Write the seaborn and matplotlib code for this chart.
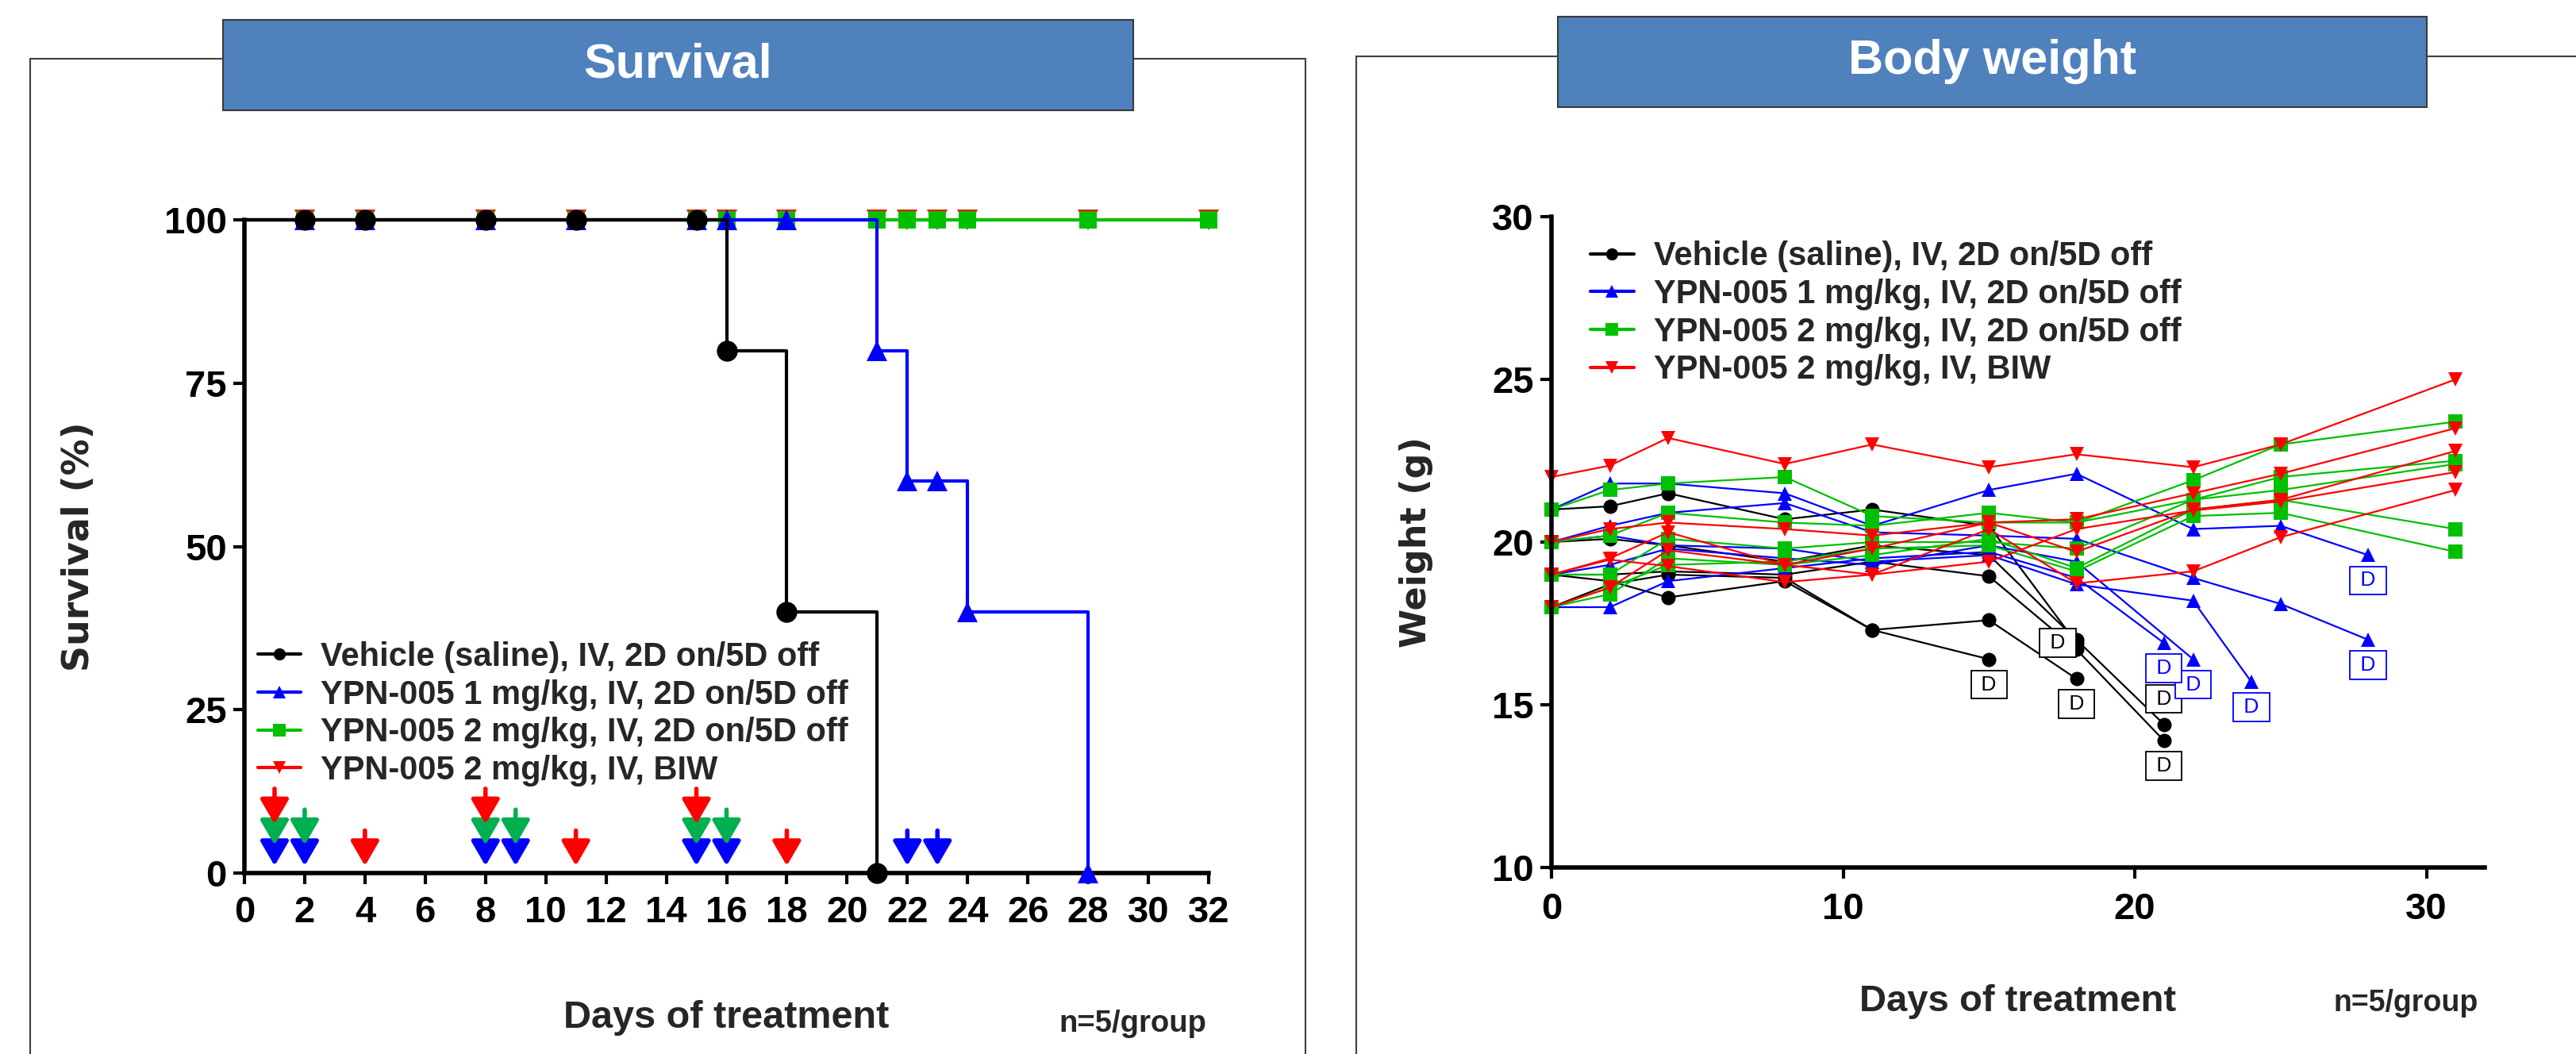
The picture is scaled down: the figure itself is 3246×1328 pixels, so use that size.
import numpy as np
import pandas as pd
import seaborn as sns
import matplotlib.pyplot as plt
from matplotlib.lines import Line2D
from matplotlib.patches import Rectangle

W, H = 3246, 1328

# Grupos
group_keys = ['veh', 'low', 'high', 'biw']
group_names = ['Vehicle (saline), IV, 2D on/5D off',
               'YPN-005 1 mg/kg, IV, 2D on/5D off',
               'YPN-005 2 mg/kg, IV, 2D on/5D off',
               'YPN-005 2 mg/kg, IV, BIW']
colors = {'veh': '#000000', 'low': '#0000FF', 'high': '#00C000', 'biw': '#FF0000'}
arrow_colors = {'low': '#0000FF', 'high': '#00B050', 'biw': '#FF0000'}
markers = {'veh': 'o', 'low': '^', 'high': 's', 'biw': 'v'}
surv_ms = {'veh': 19, 'low': 19, 'high': 16, 'biw': 19}

# Supervivencia (Kaplan-Meier)
surv_days_veh = [0, 2, 4, 8, 11, 15, 16, 18, 21]
surv_pct_veh = [100, 100, 100, 100, 100, 100, 80, 40, 0]
surv_days_low = [0, 2, 4, 8, 11, 15, 16, 18, 21, 22, 23, 24, 28]
surv_pct_low = [100, 100, 100, 100, 100, 100, 100, 100, 80, 60, 60, 40, 0]
surv_days_high = [0, 2, 4, 8, 11, 15, 16, 18, 21, 22, 23, 24, 28, 32]
surv_pct_high = [100, 100, 100, 100, 100, 100, 100, 100, 100, 100, 100, 100, 100, 100]
surv_days_biw = [0, 2, 4, 8, 11, 15, 16, 18, 21, 22, 23, 24, 28, 32]
surv_pct_biw = [100, 100, 100, 100, 100, 100, 100, 100, 100, 100, 100, 100, 100, 100]

# Dias de dosis (flechas)
dose_low = [1, 2, 8, 9, 15, 16, 22, 23]
dose_high = [1, 2, 8, 9, 15, 16]
dose_biw = [1, 4, 8, 11, 15, 18]

surv_xticks = [0, 2, 4, 6, 8, 10, 12, 14, 16, 18, 20, 22, 24, 26, 28, 30, 32]
surv_yticks = [0, 25, 50, 75, 100]

# Peso corporal (una fila por raton, nan despues de la muerte)
nan = np.nan
bw_days_veh = [0, 2, 4, 8, 11, 15, 18, 21]
bw_veh = [
    [19.0, 18.8, 18.3, 18.8, 17.3, 16.4, nan, nan],
    [18.0, 18.7, 19.0, 18.9, 17.3, 17.6, 15.8, nan],
    [21.0, 21.1, 21.5, 20.7, 21.0, 20.5, 16.9, nan],
    [20.0, 20.1, 19.9, 19.4, 19.9, 19.6, 17.0, 14.4],
    [19.0, 19.0, 19.1, 19.0, 19.4, 18.95, 16.7, 13.9],
]
bw_days_low = [0, 2, 4, 8, 11, 15, 18, 21, 22, 24, 25, 28]
bw_low = [
    [21.0, 21.8, 21.8, 21.5, 20.5, 21.6, 22.1, nan, 20.4, nan, 20.5, 19.6],
    [20.0, 20.5, 20.9, 21.2, 20.3, 20.2, 20.1, nan, 18.9, nan, 18.1, 17.0],
    [20.0, 20.2, 19.9, 19.8, 19.4, 19.6, 18.7, nan, 18.2, 15.7, nan, nan],
    [19.0, 19.3, 19.8, 19.5, 19.3, 19.9, 19.4, nan, 16.4, nan, nan, nan],
    [18.0, 18.0, 18.8, 19.2, 19.5, 19.7, 18.9, 16.9, nan, nan, nan, nan],
]
bw_days_high = [0, 2, 4, 8, 11, 15, 18, 22, 25, 31]
bw_high = [
    [21.0, 21.6, 21.8, 22.0, 20.8, 20.6, 20.6, 21.9, 23.0, 23.7],
    [20.0, 20.2, 20.9, 20.6, 20.5, 20.9, 20.6, 21.3, 22.0, 22.5],
    [19.0, 19.0, 20.1, 19.8, 20.0, 20.0, 19.8, 21.3, 21.6, 22.4],
    [18.0, 18.4, 19.5, 19.3, 19.6, 20.1, 19.2, 21.0, 21.3, 20.4],
    [18.0, 18.6, 19.3, 19.4, 19.8, 19.9, 19.1, 20.8, 20.9, 19.7],
]
bw_days_biw = [0, 2, 4, 8, 11, 15, 18, 22, 25, 31]
bw_biw = [
    [22.0, 22.35, 23.2, 22.4, 23.0, 22.3, 22.7, 22.3, 23.0, 25.0],
    [20.0, 20.4, 20.6, 20.4, 20.2, 20.6, 20.7, 21.5, 22.1, 23.5],
    [19.0, 19.5, 20.3, 19.3, 19.8, 20.6, 19.7, 21.0, 21.3, 22.8],
    [18.0, 18.6, 19.75, 19.3, 19.0, 19.4, 20.4, 20.97, 21.25, 22.15],
    [19.0, 19.46, 19.26, 18.77, 19.0, 20.4, 18.73, 19.1, 20.15, 21.6],
]
bw_xticks = [0, 10, 20, 30]
bw_yticks = [10, 15, 20, 25, 30]

# Estilo
sns.set_theme(style='ticks')
plt.rcParams['font.family'] = ['Liberation Sans', 'DejaVu Sans']
plt.rcParams['font.weight'] = 'bold'
plt.rcParams['axes.labelweight'] = 'bold'

fig = plt.figure(figsize=(W / 100, H / 100), dpi=100)


def fx(px):
    return px / W


def fy(py):
    return 1 - py / H


# Marcos y cabeceras
fig.add_artist(Rectangle((fx(38), fy(1340)), (1645 - 38) / W, (1340 - 74) / H,
                         transform=fig.transFigure, fill=False, ec='#404040', lw=1.5))
fig.add_artist(Rectangle((fx(1709), fy(1340)), (3300 - 1709) / W, (1340 - 71) / H,
                         transform=fig.transFigure, fill=False, ec='#404040', lw=1.5))
for (x0, y0, x1, y1), title in [((281, 25, 1428, 139), 'Survival'),
                                ((1963, 21, 3058, 135), 'Body weight')]:
    fig.add_artist(Rectangle((fx(x0), fy(y1)), (x1 - x0) / W, (y1 - y0) / H,
                             transform=fig.transFigure, fc='#4F81BD', ec='#3A3A3A', lw=1.5))
    fig.text(fx((x0 + x1) / 2), fy((y0 + y1) / 2), title, color='white', fontsize=44,
             ha='center', va='center')

# -------------------------------
# Supervivencia
ax1 = fig.add_axes([fx(308), fy(1100), (1523 - 308) / W, (1100 - 277) / H])
surv = {'veh': (surv_days_veh, surv_pct_veh), 'low': (surv_days_low, surv_pct_low),
        'high': (surv_days_high, surv_pct_high), 'biw': (surv_days_biw, surv_pct_biw)}
for z, key in enumerate(['biw', 'high', 'low', 'veh']):
    d, p = surv[key]
    sns.lineplot(x=d, y=p, ax=ax1, color=colors[key], drawstyle='steps-post', lw=3,
                 marker=markers[key], markersize=surv_ms[key], markeredgewidth=0,
                 markevery=list(range(1, len(d))), clip_on=False, estimator=None,
                 sort=False, zorder=3 + z)

dose_sets = [('low', dose_low), ('high', dose_high), ('biw', dose_biw)]
for i, (key, days) in enumerate(dose_sets):
    for d in days:
        level = sum(d in dd for _, dd in dose_sets[:i])
        tip = 1.1 + 3.2 * level
        ax1.annotate('', xy=(d, tip), xytext=(d, tip + 5.4),
                     arrowprops=dict(arrowstyle='-|>,head_width=0.55,head_length=0.95',
                                     color=arrow_colors[key], lw=4, mutation_scale=20,
                                     shrinkA=0, shrinkB=0), zorder=10 + i)

ax1.set_xlim(0, 32)
ax1.set_ylim(0, 100)
ax1.set_xticks(surv_xticks)
ax1.set_yticks(surv_yticks)
ax1.set_ylabel('Survival (%)', fontfamily='DejaVu Sans', fontsize=33, fontweight='bold')
ax1.yaxis.set_label_coords(-0.172, 0.5)
ax1.yaxis.label.set_va('center')
ax1.set_xlabel('Days of treatment', fontsize=35)
ax1.xaxis.set_label_coords(0.5, -0.222)
ax1.xaxis.label.set_va('center')
fig.text(fx(1520), fy(1290), 'n=5/group', fontsize=27.5, ha='right', va='center')

handles = [Line2D([], [], color=colors[k], marker=markers[k], lw=3, ms=11, mew=0)
           for k in group_keys]
ax1.legend(handles, group_names, loc='upper left', bbox_to_anchor=(0.014, 0.355),
           frameon=False, fontsize=30, handlelength=1.3, handletextpad=0.6,
           labelspacing=0.185, borderaxespad=0, borderpad=0)

# -------------------------------
# Peso corporal
rows = []
for key, days, mice in [('veh', bw_days_veh, bw_veh), ('low', bw_days_low, bw_low),
                        ('high', bw_days_high, bw_high), ('biw', bw_days_biw, bw_biw)]:
    for i, wts in enumerate(mice):
        for d, v in zip(days, wts):
            if not np.isnan(v):
                rows.append(dict(group=key, mouse=f'{key}{i}', day=d, weight=v))
df = pd.DataFrame(rows)

ax2 = fig.add_axes([fx(1955), fy(1093), (3131 - 1955) / W, (1093 - 273) / H])
sns.lineplot(data=df, x='day', y='weight', hue='group', style='group', units='mouse',
             estimator=None, hue_order=group_keys, style_order=group_keys, palette=colors,
             markers=markers, dashes=False, markersize=13, markeredgewidth=0, lw=1.6,
             legend=False, clip_on=False, ax=ax2)

# Etiquetas "D" en los ratones muertos (grupos que llegan a 0% de supervivencia)
d_offsets = {'veh2': (-17, 0), 'veh3': (0, 23)}
for key in group_keys:
    if surv[key][1][-1] != 0:
        continue
    for mouse, sub in df[df.group == key].groupby('mouse'):
        last = sub.sort_values('day').iloc[-1]
        dx, dy = d_offsets.get(mouse, (0, -23))
        ax2.annotate(' D ', xy=(last.day, last.weight), xytext=(dx, dy),
                     textcoords='offset points', ha='center', va='center', fontsize=19,
                     fontweight='normal', color=colors[key],
                     bbox=dict(boxstyle='square,pad=0.22', fc='white', ec=colors[key], lw=1.3),
                     zorder=20)

ax2.set_xlim(0, 32)
ax2.set_ylim(10, 30)
ax2.set_xticks(bw_xticks)
ax2.set_yticks(bw_yticks)
ax2.set_ylabel('Weight (g)', fontfamily='DejaVu Sans', fontsize=32, fontweight='bold')
ax2.yaxis.set_label_coords(-0.145, 0.5)
ax2.yaxis.label.set_va('center')
ax2.set_xlabel('Days of treatment', fontsize=34)
ax2.xaxis.set_label_coords(0.5, -0.206)
ax2.xaxis.label.set_va('center')
fig.text(fx(3123), fy(1264), 'n=5/group', fontsize=27, ha='right', va='center')

ax2.legend(handles, group_names, loc='upper left', bbox_to_anchor=(0.042, 0.963),
           frameon=False, fontsize=30, handlelength=1.3, handletextpad=0.6,
           labelspacing=0.185, borderaxespad=0, borderpad=0)

# Ejes estilo GraphPad
for ax, ypad, xpad in [(ax1, 6, 10), (ax2, 6, 12)]:
    sns.despine(ax=ax)
    ax.patch.set_alpha(0)
    for s in ['left', 'bottom']:
        ax.spines[s].set_linewidth(4)
        ax.spines[s].set_color('black')
    ax.tick_params(axis='both', direction='out', length=10, width=3, color='black',
                   labelsize=34, labelcolor='black')
    ax.tick_params(axis='y', pad=ypad)
    ax.tick_params(axis='x', pad=xpad)
    ax.grid(False)

fig.savefig('out.png', dpi=100)
plt.close()
